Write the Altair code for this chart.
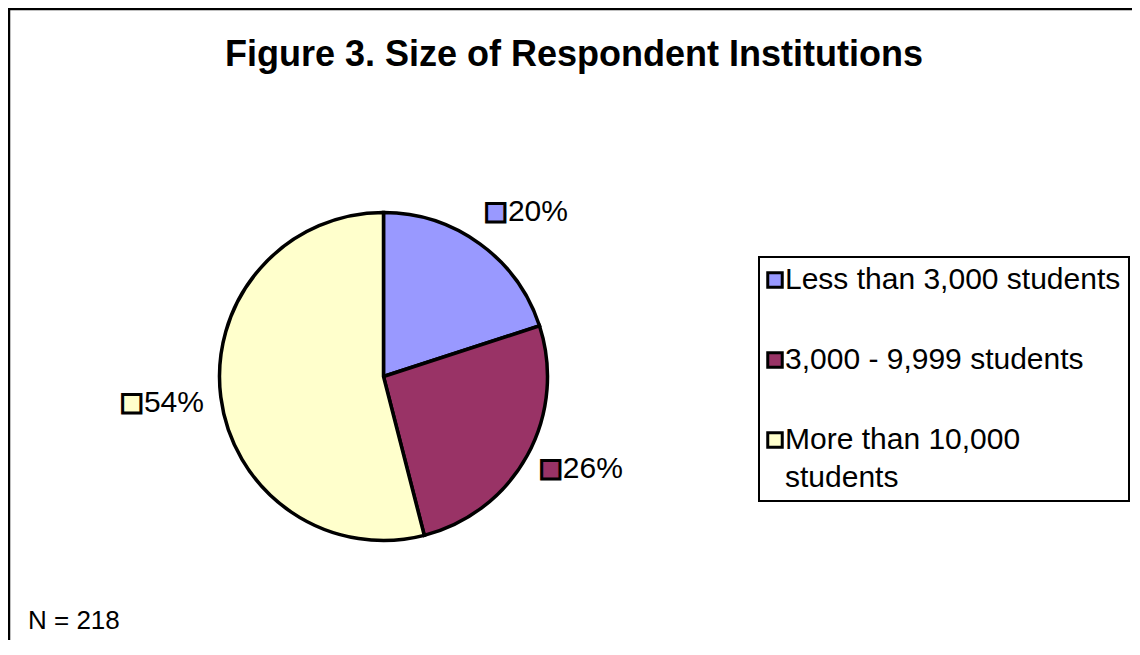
import altair as alt
import pandas as pd

# ---- data ----
categories = ["Less than 3,000 students", "3,000 - 9,999 students", "More than 10,000 students"]
percents = [20, 26, 54]
labels = ["20%", "26%", "54%"]
colors = ["#9999FF", "#993366", "#FFFFCC"]
title_text = "Figure 3. Size of Respondent Institutions"
note_text = "N = 218"

# ---- layout / style ----
W, H = 1124, 632
CX, CY, R = 375.5, 368.5, 164
label_radius = [199, 191, 253]
label_theta_offset = [-0.028, 0.0, 0.021]
FONT = "Liberation Sans"

df = pd.DataFrame({
    "category": categories,
    "percent": percents,
    "label": labels,
    "order": list(range(len(categories))),
})

color_scale = alt.Scale(domain=categories, range=colors)

base = alt.Chart(df).encode(
    theta=alt.Theta("percent:Q", stack=True),
    order=alt.Order("order:Q", sort="ascending"),
)

wrap_expr = (
    "datum.label == 'More than 10,000 students' ? "
    "['More than 10,000', 'students'] : datum.label"
)

pie = base.mark_arc(x=CX, y=CY, radius=R, stroke="black", strokeWidth=3.5).encode(
    color=alt.Color(
        "category:N",
        scale=color_scale,
        sort=categories,
        title=None,
        legend=alt.Legend(
            orient="none",
            legendX=751,
            legendY=249,
            direction="vertical",
            strokeColor="black",
            padding=8,
            symbolType="square",
            symbolSize=210,
            symbolStrokeColor="black",
            symbolStrokeWidth=3,
            symbolOffset=-7,
            labelFont=FONT,
            labelFontSize=30,
            labelColor="black",
            labelOffset={"expr": "-5"},
            rowPadding=50,
            labelLimit=500,
            labelExpr=wrap_expr,
        ),
    )
)

label_layers = []
for i, cat in enumerate(categories):
    show = alt.condition(alt.datum.category == cat, alt.value(1), alt.value(0))
    sq = base.mark_text(
        x=CX, y=CY, radius=label_radius[i], thetaOffset=label_theta_offset[i],
        font="DejaVu Sans", fontSize=24, stroke="black", strokeWidth=3,
        align="center", baseline="middle",
    ).encode(
        text=alt.value("\u25A0"),
        color=alt.Color("category:N", scale=color_scale, legend=None),
        opacity=show,
    )
    txt = base.mark_text(
        x=CX, y=CY, radius=label_radius[i], thetaOffset=label_theta_offset[i],
        font=FONT, fontSize=30, color="black", align="left", baseline="middle", dx=12,
    ).encode(
        text="label:N",
        opacity=show,
    )
    label_layers += [sq, txt]

title = alt.Chart(pd.DataFrame({"t": [title_text]})).mark_text(
    x=566, y=47, font=FONT, fontSize=36, fontWeight="bold", color="black",
    align="center", baseline="middle",
).encode(text="t:N")

note = alt.Chart(pd.DataFrame({"t": [note_text]})).mark_text(
    x=20, y=613, font=FONT, fontSize=26, color="black",
    align="left", baseline="middle",
).encode(text="t:N")

frame = alt.Data(values=[{}])
border_left = alt.Chart(frame).mark_rule(color="black", strokeWidth=2.5).encode(
    x=alt.value(1), y=alt.value(0), y2=alt.value(H)
)
border_top = alt.Chart(frame).mark_rule(color="black", strokeWidth=2.5).encode(
    x=alt.value(0), x2=alt.value(W), y=alt.value(1)
)

chart = alt.layer(border_left, border_top, pie, *label_layers, title, note).properties(
    width=W, height=H, autosize="none", padding=0
)

chart = chart.configure(font=FONT, style={"guide-label": {"lineHeight": 38}}).configure_view(
    strokeWidth=0
).configure_legend(strokeWidth=2)

chart.save("out.html", embed_options={"renderer": "svg", "actions": False})
